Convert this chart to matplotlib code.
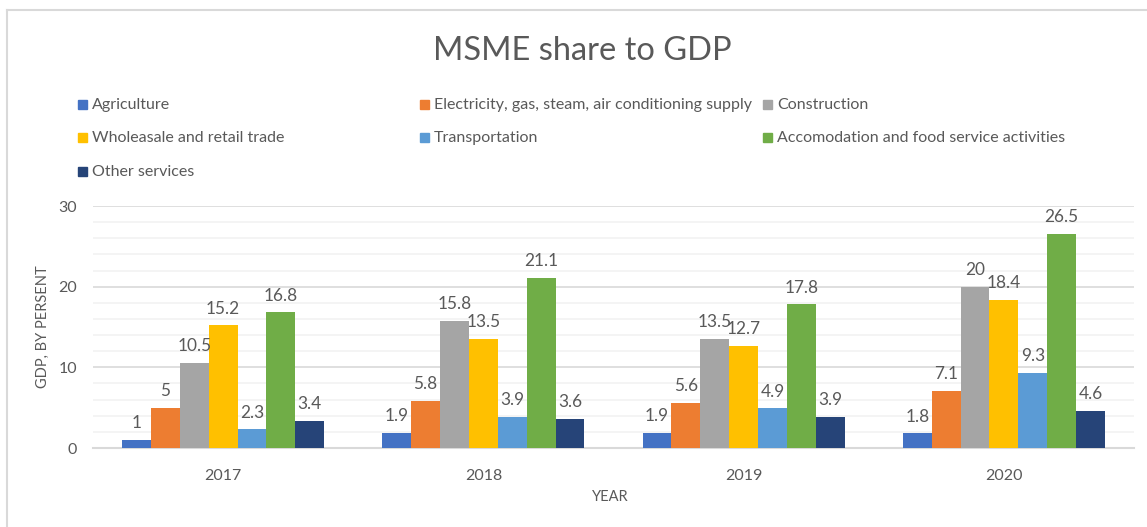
import matplotlib
matplotlib.use("Agg")
import matplotlib.pyplot as plt
import numpy as np
from matplotlib.lines import Line2D
from matplotlib.ticker import MultipleLocator

plt.rcParams['font.family'] = ['Lato', 'DejaVu Sans']

years = ["2017", "2018", "2019", "2020"]
series_names = [
    "Agriculture",
    "Electricity, gas, steam, air conditioning supply",
    "Construction",
    "Wholeasale and retail trade",
    "Transportation",
    "Accomodation and food service activities",
    "Other services",
]
agriculture = [1, 1.9, 1.9, 1.8]
electricity = [5, 5.8, 5.6, 7.1]
construction = [10.5, 15.8, 13.5, 20]
wholesale = [15.2, 13.5, 12.7, 18.4]
transportation = [2.3, 3.9, 4.9, 9.3]
accomodation = [16.8, 21.1, 17.8, 26.5]
other = [3.4, 3.6, 3.9, 4.6]
colors = ["#4472C4", "#ED7D31", "#A5A5A5", "#FFC000", "#5B9BD5", "#70AD47", "#264478"]

series = [agriculture, electricity, construction, wholesale, transportation, accomodation, other]

W, H = 1147, 527
fig = plt.figure(figsize=(W / 100, H / 100), dpi=100)
ax = fig.add_axes([93 / W, 1 - 448 / H, (1134 - 93) / W, (448 - 206) / H])

x = np.arange(len(years))
n = len(series)
group = 0.777
bw = group / n
text_color = "#595959"
for i, (vals, c) in enumerate(zip(series, colors)):
    pos = x - group / 2 + bw * (i + 0.5)
    ax.bar(pos, vals, width=bw, color=c, zorder=3, linewidth=0)
    for p, v in zip(pos, vals):
        ax.annotate(f"{v:g}", (p, v), xytext=(0, 8.5), textcoords="offset points",
                    ha="center", va="baseline", fontsize=12.4, color=text_color, zorder=4)

ax.set_xlim(-0.5, len(years) - 0.5)
ax.set_ylim(0, 30)
ax.set_xticks(x)
ax.set_xticklabels(years)
ax.yaxis.set_major_locator(MultipleLocator(10))
ax.yaxis.set_minor_locator(MultipleLocator(2))
ax.grid(axis="y", which="major", color="#D9D9D9", linewidth=1.2, zorder=0)
ax.grid(axis="y", which="minor", color="#F2F2F2", linewidth=1.2, zorder=0)
ax.set_axisbelow(True)
for s in ["top", "right", "left"]:
    ax.spines[s].set_visible(False)
ax.spines["bottom"].set_color("#D9D9D9")
ax.spines["bottom"].set_linewidth(1.5)
ax.tick_params(axis="both", which="both", length=0, labelsize=11.5, labelcolor=text_color)
ax.tick_params(axis="x", pad=15)
ax.tick_params(axis="y", pad=11.5)

fig.text(43 / W, 1 - 327 / H, "GDP, BY PERSENT", rotation=90, ha="center", va="center",
         fontsize=10.5, color=text_color)
fig.text(610 / W, 1 - 497 / H, "YEAR", ha="center", va="center", fontsize=10.5, color=text_color)

fig.text(582 / W, 1 - 51 / H, "MSME share to GDP", ha="center", va="center", fontsize=23.5, color=text_color)

# legend
leg_cols = [78, 420, 763]
leg_rows = [105, 138, 172]
for i, (name, c) in enumerate(zip(series_names, colors)):
    r, col = divmod(i, 3)
    lx = leg_cols[col]
    ly = leg_rows[r]
    fig.patches.append(plt.Rectangle((lx / W, 1 - (ly + 4) / H), 9 / W, 9 / H,
                                     transform=fig.transFigure, color=c, figure=fig))
    fig.text((lx + 14) / W, 1 - ly / H, name, ha="left", va="center", fontsize=11.5, color=text_color)

# chart frame (partially visible)
fig.add_artist(Line2D([7 / W, 7 / W], [0, 1 - 10 / H], transform=fig.transFigure, color="#D9D9D9", linewidth=1.5))
fig.add_artist(Line2D([7 / W, 1], [1 - 10 / H, 1 - 10 / H], transform=fig.transFigure, color="#D9D9D9", linewidth=1.5))

fig.savefig("out.png", dpi=100, facecolor="white")
